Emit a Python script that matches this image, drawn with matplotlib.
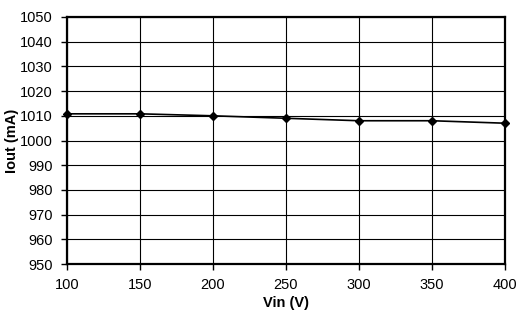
import matplotlib
matplotlib.use("Agg")
import matplotlib.pyplot as plt

vin = [100, 150, 200, 250, 300, 350, 400]
iout = [1010.8, 1010.8, 1010.0, 1009.0, 1008.0, 1008.0, 1007.0]
xticks = [100, 150, 200, 250, 300, 350, 400]
yticks = list(range(950, 1051, 10))

plt.rcParams['font.family'] = ['Liberation Sans', 'DejaVu Sans']

fig = plt.figure(figsize=(5.2, 3.25), dpi=100)
ax = fig.add_axes([67/520, 1-264/325, (505-67)/520, (264-17)/325])
ax.plot(vin, iout, color='black', lw=1.2, marker='D', ms=4.5, clip_on=False, zorder=5)
ax.set_xlim(100, 400)
ax.set_ylim(950, 1050)
ax.set_xticks(xticks)
ax.set_yticks(yticks)
ax.grid(True, color='black', lw=0.8)
for s in ax.spines.values():
    s.set_linewidth(1.6)
    s.set_color('black')
ax.tick_params(direction='out', length=4, width=1, labelsize=10.5, colors='black')
ax.tick_params(axis='x', pad=6)
ax.tick_params(axis='y', pad=6)
ax.set_xlabel('Vin (V)', fontsize=10.5, fontweight='bold', labelpad=3)
ax.set_ylabel('Iout (mA)', fontsize=10.5, fontweight='bold', labelpad=1)
fig.savefig('out.png', dpi=100)
